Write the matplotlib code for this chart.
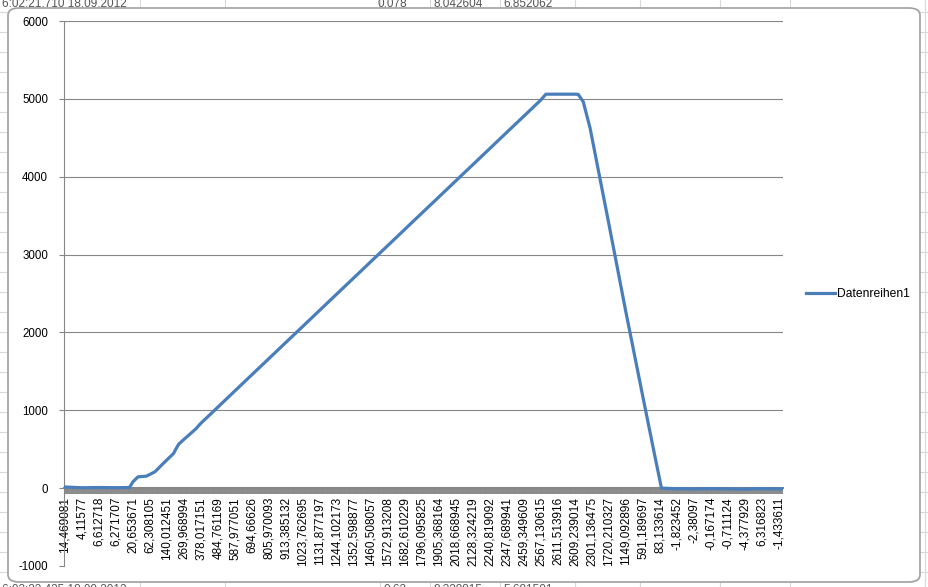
import matplotlib
matplotlib.use('Agg')
import matplotlib.pyplot as plt
from matplotlib.patches import FancyBboxPatch
from matplotlib.lines import Line2D

W, H = 929, 587

# category axis: one tick per row, every 10th row is labelled
n_categories = 423
tick_labels = [
    '14,469081', '4,11577', '6,612718', '6,271707', '20,653671', '62,308105',
    '140,012451', '269,968994', '378,017151', '484,761169', '587,977051',
    '694,66626', '805,970093', '913,385132', '1023,762695', '1131,877197',
    '1244,102173', '1352,598877', '1460,508057', '1572,913208', '1682,610229',
    '1796,095825', '1905,368164', '2018,668945', '2128,324219', '2240,819092',
    '2347,689941', '2459,349609', '2567,130615', '2611,513916', '2609,239014',
    '2301,136475', '1720,210327', '1149,092896', '591,189697', '83,133614',
    '-1,823452', '-2,38097', '-0,167174', '-0,711124', '-4,377929',
    '6,316823', '-1,433611',
]

# series values (row index, value)
sample_idx = [0, 10, 20, 30, 38, 40, 43, 48, 53, 58, 64, 65, 67, 70, 77,
              80, 90, 100, 110, 120, 130, 140, 150, 160, 170, 180, 190, 200,
              210, 220, 230, 240, 250, 260, 270, 280, 283, 290, 300, 302,
              305, 309, 320, 330, 340, 347, 351, 360, 370, 380, 390, 400,
              410, 422]
sample_val = [15, 5, 8, 6, 8, 80, 145, 154, 210, 320, 446, 490, 565, 625,
              760, 833, 1040, 1248, 1456, 1663, 1871, 2078, 2286, 2494, 2701,
              2909, 3116, 3324, 3532, 3739, 3947, 4154, 4362, 4570, 4777,
              4985, 5060, 5060, 5060, 5058, 4962, 4624, 3400, 2270, 1180,
              424, 0, -8, -10, -6, -9, -12, -7, -10]

series_name = 'Datenreihen1'

grey = '#868686'
blue = '#4a7ebb'
font = 'Liberation Sans'

fig = plt.figure(figsize=(W / 100, H / 100), dpi=100)
fig.patch.set_facecolor('white')


def fx(x):
    return x / W


def fy(y):
    return 1 - y / H


# spreadsheet behind the chart
cell = '#d9d9d9'
for y in range(0, H + 20, 20):
    fig.add_artist(Line2D([0, 1], [fy(y + 12), fy(y + 12)], color=cell,
                          lw=0.8, zorder=0))
for x in [140, 225, 380, 430, 500, 575, 640, 720, 790, 925]:
    fig.add_artist(Line2D([fx(x), fx(x)], [0, 1], color=cell, lw=0.8,
                          zorder=0))
sheet_text = [
    (2, 4, '6:02:21,710 18.09.2012', 'left'),
    (407, 4, '0,078', 'right'),
    (483, 4, '8,042604', 'right'),
    (553, 4, '6,852062', 'right'),
    (2, 590, '6:03:23,435 18.09.2012', 'left'),
    (407, 590, '0,62', 'right'),
    (483, 590, '8,328815', 'right'),
    (553, 590, '5,681501', 'right'),
]
for x, y, s, ha in sheet_text:
    fig.text(fx(x), fy(y), s, fontsize=8.5, family=font, color='#555555',
             va='center', ha=ha, zorder=0)

# chart area
box = FancyBboxPatch((fx(8), fy(582)), fx(912), 574 / H,
                     boxstyle='round,pad=0,rounding_size=0.012',
                     transform=fig.transFigure, facecolor='white',
                     edgecolor='#a0a0a0', lw=1.2, zorder=1)
fig.add_artist(box)

ax = fig.add_axes([fx(64), fy(566), (783 - 64) / W, (566 - 21) / H])
ax.set_zorder(2)
ax.patch.set_alpha(0)

# position the spine first: this rebuilds the ticks
for s in ['top', 'right']:
    ax.spines[s].set_visible(False)
ax.spines['left'].set_color(grey)
ax.spines['bottom'].set_color(grey)
ax.spines['bottom'].set_linewidth(1.5)
ax.spines['bottom'].set_position(('data', 0))

line, = ax.plot(sample_idx, sample_val, color=blue, lw=2.3,
                solid_joinstyle='round', label=series_name, zorder=4)

ax.set_xlim(-0.5, n_categories - 0.5)
ax.set_ylim(-1000, 6000)
yticks = list(range(-1000, 6001, 1000))
ax.set_yticks(yticks)
ax.set_yticklabels([str(v) for v in yticks], family=font, fontsize=8.3)
for v in yticks:
    if v > 0:
        ax.axhline(v, color=grey, lw=0.8, zorder=1)

ax.set_xticks(range(0, 10 * len(tick_labels), 10))
ax.set_xticks(range(n_categories), minor=True)
ax.set_xticklabels(tick_labels, rotation=90, family=font, fontsize=8.5)

# every row has a tick mark, so they merge into a grey band
ax.tick_params(axis='x', which='both', direction='out', length=4.5,
               width=1.4, color='#8a8a8a', pad=1.8)
ax.tick_params(axis='y', direction='out', length=3.5, width=0.8,
               color=grey, pad=8)

ax.legend(handles=[line], loc='center left',
          bbox_to_anchor=(fx(800), fy(294)), bbox_transform=fig.transFigure,
          frameon=False, borderpad=0, handlelength=2.4, handletextpad=0.2,
          prop={'family': font, 'size': 8.7})

fig.savefig('out.png', dpi=100)
